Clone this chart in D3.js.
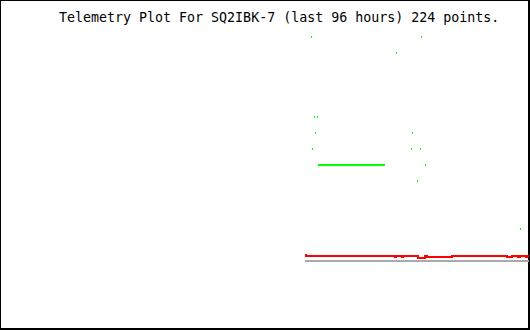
<!DOCTYPE html>
<html>
<head>
<meta charset="utf-8">
<script src="https://cdn.jsdelivr.net/npm/d3@7"></script>
<style>
  body { margin: 0; background: #fff; }
</style>
</head>
<body>
<div id="chart"></div>
<script>
// 224 telemetry points, one pixel per point
const totalPoints = 224
const title = 'Telemetry Plot For SQ2IBK-7 (last 96 hours) 224 points.'

// red channel: [point index, value] where the value changes (step line)
const redSteps = [
  [0, 6], [1, 5], [90, 4], [91, 5], [97, 4], [98, 5], [113, 3], [120, 5],
  [122, 4], [147, 5], [202, 4], [207, 5], [213, 4], [215, 5], [221, 4],
  [222, 5], [224, 5]
]

// gray baseline channel
const graySteps = [[0, 0], [224, 0]]

// green channel: isolated samples [point index, value]
const greenPoints = [
  [6, 224], [116, 224], [91, 208], [9, 144], [12, 144], [10, 128],
  [107, 128], [7, 112], [106, 112], [115, 112], [120, 96], [112, 80],
  [215, 32]
]

// green channel: run of equal samples drawn as a line
const greenRun = [[13, 96], [80, 96]]

const width = 530
const height = 330

const svg = d3.select('#chart')
  .append('svg')
  .attr('width', width)
  .attr('height', height)
  .style('display', 'block')
  .attr('shape-rendering', 'crispEdges')

// frame: 1px top/left, 2px right/bottom
svg.append('rect')
  .attr('width', width)
  .attr('height', height)
  .attr('fill', '#000')

svg.append('rect')
  .attr('x', 1)
  .attr('y', 1)
  .attr('width', width - 3)
  .attr('height', height - 3)
  .attr('fill', '#fff')

svg.append('text')
  .attr('x', 59)
  .attr('y', 22)
  .attr('font-family', '"DejaVu Sans Mono", monospace')
  .attr('font-size', '13.3px')
  .attr('fill', '#000')
  .text(title)

const x = d3.scaleLinear()
  .domain([0, totalPoints])
  .range([width - 1 - totalPoints, width - 1])

const y = d3.scaleLinear()
  .domain([0, 256])
  .range([261, 5])

const stepLine = d3.line()
  .x(d => x(d[0]))
  .y(d => y(d[1]))
  .curve(d3.curveStepAfter)

svg.append('path')
  .datum(graySteps)
  .attr('d', stepLine)
  .attr('fill', 'none')
  .attr('stroke', '#aaaaaa')
  .attr('stroke-width', 2)

svg.append('path')
  .datum(redSteps)
  .attr('d', stepLine)
  .attr('fill', 'none')
  .attr('stroke', '#ff0000')
  .attr('stroke-width', 2)

svg.append('path')
  .datum(greenRun)
  .attr('d', d3.line().x(d => x(d[0])).y(d => y(d[1])))
  .attr('fill', 'none')
  .attr('stroke', '#00ff00')
  .attr('stroke-width', 2)

svg.append('g')
  .selectAll('rect')
  .data(greenPoints)
  .enter()
  .append('rect')
  .attr('x', d => x(d[0]))
  .attr('y', d => y(d[1]) - 1)
  .attr('width', 1)
  .attr('height', 2)
  .attr('fill', '#00ff00')
</script>
</body>
</html>
